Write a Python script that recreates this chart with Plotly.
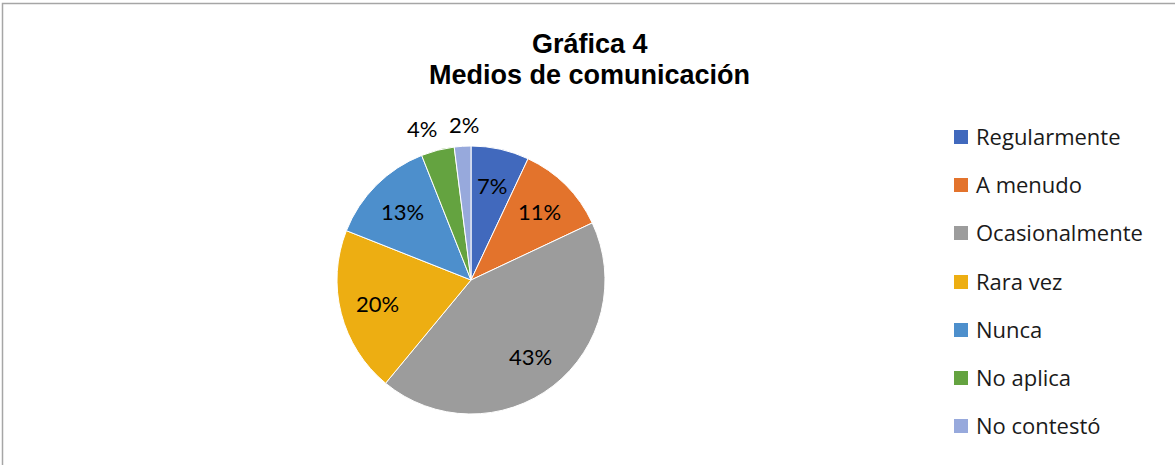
import math
import plotly.graph_objects as go

categories = ["Regularmente", "A menudo", "Ocasionalmente", "Rara vez", "Nunca", "No aplica", "No contestó"]
values = [7, 11, 43, 20, 13, 4, 2]
colors = ["#4169BD", "#E3732C", "#9C9C9C", "#EDAE12", "#4D8FCC", "#64A340", "#97A9DC"]
label_outside = [False, False, False, False, False, True, True]

W, H = 1175, 465
PIE_FONT = "Lato"
LEG_FONT = "Open Sans"

# pie geometry (pixels in the page)
cx, cy, r = 471, 280, 134
label_xshift = [0, 0, 0, 0, 0, -10, 3]

fig = go.Figure()
fig.add_trace(go.Pie(
    labels=categories,
    values=values,
    sort=False,
    direction="clockwise",
    rotation=0,
    marker=dict(colors=colors, line=dict(color="white", width=1)),
    textinfo="none",
    domain=dict(x=[(cx - r) / W, (cx + r) / W], y=[1 - (cy + r) / H, 1 - (cy - r) / H]),
    showlegend=False,
    hoverinfo="label+percent",
))

annotations = []
shapes = [dict(type="rect", xref="paper", yref="paper",
               x0=2.5 / W, x1=1.02, y0=-0.02, y1=1 - 3.5 / H,
               line=dict(color="#A6A6A6", width=1.5), fillcolor="rgba(0,0,0,0)")]

# percentage labels, placed along each slice's mid-angle (derived from the data)
total = sum(values)
cum = 0
for v, o, xs in zip(values, label_outside, label_xshift):
    mid = (cum + v / 2) / total * 2 * math.pi
    cum += v
    f = 1.165 if o else 0.72
    lx = cx + f * r * math.sin(mid)
    ly = cy - f * r * math.cos(mid)
    annotations.append(dict(text=f"{round(100 * v / total)}%", xref="paper", yref="paper",
                            x=lx / W, y=1 - ly / H, xanchor="center", yanchor="middle",
                            xshift=xs, showarrow=False,
                            font=dict(family=PIE_FONT, size=22, color="black")))

# manual legend
row_y = [137, 185, 233, 282, 330, 378, 426]
for cat, col, yy in zip(categories, colors, row_y):
    shapes.append(dict(type="rect", xref="paper", yref="paper",
                       x0=954 / W, x1=968 / W, y0=1 - (yy + 7) / H, y1=1 - (yy - 7) / H,
                       line=dict(width=0), fillcolor=col))
    annotations.append(dict(text=cat, xref="paper", yref="paper",
                            x=974 / W, y=1 - (yy - 1) / H, xanchor="left", yanchor="middle",
                            showarrow=False, font=dict(family=LEG_FONT, size=22, color="#1a1a1a")))

# title
for txt, yy in [("<b>Gráfica 4</b>", 44), ("<b>Medios de comunicación</b>", 75)]:
    annotations.append(dict(text=txt, xref="paper", yref="paper", x=590 / W, y=1 - yy / H,
                            xanchor="center", yanchor="middle", showarrow=False,
                            font=dict(family="Liberation Sans", size=27, color="black")))

fig.update_layout(
    width=W, height=H,
    margin=dict(l=0, r=0, t=0, b=0),
    paper_bgcolor="white",
    plot_bgcolor="white",
    shapes=shapes,
    annotations=annotations,
)

fig.write_html("out.html", config={"displayModeBar": False},
               post_script="document.body.style.margin='0';")
